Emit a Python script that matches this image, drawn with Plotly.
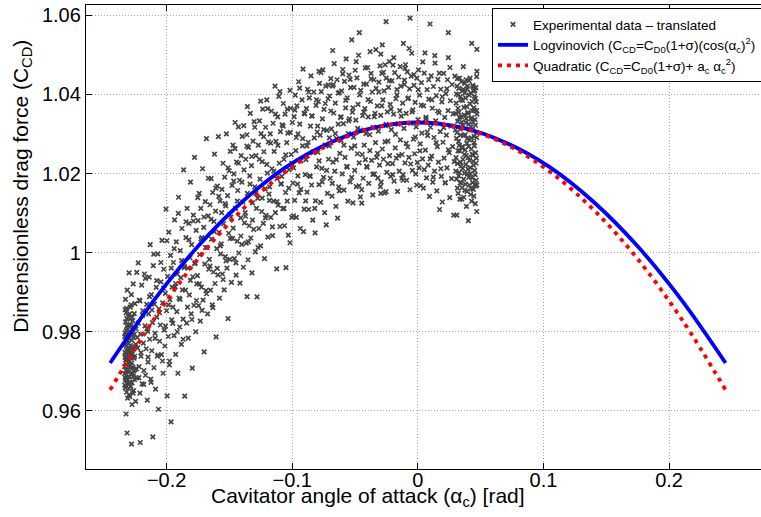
import plotly.graph_objects as go

# ---------------- data ----------------
# experimental points (alpha [rad], C_CD), grouped by region of the cloud
exp_left = [
    (-0.2334,0.9712),(-0.2331,0.9768),(-0.2329,0.9658),(-0.2327,0.9825),(-0.2333,0.9694),(-0.2325,0.9741),(-0.2322,0.9803),(-0.2330,0.9856),(-0.2318,0.9677),(-0.2326,0.9729),
    (-0.2315,0.9786),(-0.2320,0.9647),(-0.2312,0.9758),(-0.2328,0.9882),(-0.2310,0.9703),(-0.2317,0.9834),(-0.2306,0.9667),(-0.2323,0.9592),(-0.2308,0.9751),(-0.2314,0.9905),
    (-0.2302,0.9724),(-0.2300,0.9812),(-0.2297,0.9686),(-0.2304,0.9771),(-0.2295,0.9845),(-0.2293,0.9636),(-0.2299,0.9949),(-0.2290,0.9735),(-0.2288,0.9797),(-0.2285,0.9662),
    (-0.2283,0.9868),(-0.2280,0.9516),(-0.2287,0.9715),(-0.2278,0.9779),(-0.2276,0.9616),(-0.2274,0.9836),(-0.2271,0.9694),(-0.2269,0.9758),(-0.2266,0.9921),(-0.2264,0.9651),
    (-0.2315,0.9544),(-0.2262,0.9812),(-0.2259,0.9733),(-0.2256,0.9679),(-0.2253,0.9871),(-0.2250,0.9762),(-0.2247,0.9624),(-0.2244,0.9807),(-0.2241,0.9706),(-0.2238,0.9950),
    (-0.2332,0.9748),(-0.2330,0.9684),(-0.2326,0.9791),(-0.2321,0.9717),(-0.2319,0.9859),(-0.2311,0.9632),(-0.2309,0.9777),(-0.2303,0.9698),(-0.2298,0.9752),(-0.2294,0.9818),
    (-0.2291,0.9673),(-0.2286,0.9742),(-0.2281,0.9894),(-0.2277,0.9721),(-0.2272,0.9806),(-0.2268,0.9645),(-0.2263,0.9785),(-0.2258,0.9846),(-0.2252,0.9705),(-0.2246,0.9768),
    (-0.2333,0.9665),(-0.2329,0.9797),(-0.2324,0.9702),(-0.2321,0.9764),(-0.2318,0.9729),(-0.2316,0.9815),(-0.2313,0.9685),(-0.2307,0.9740),(-0.2305,0.9839),(-0.2301,0.9657),
    (-0.2296,0.9783),(-0.2292,0.9709),(-0.2289,0.9862),(-0.2284,0.9693),(-0.2279,0.9748),(-0.2275,0.9671),(-0.2270,0.9828),(-0.2267,0.9736),(-0.2261,0.9701),(-0.2257,0.9794),
    (-0.2334,0.9787),(-0.2327,0.9679),(-0.2319,0.9752),(-0.2311,0.9807),(-0.2304,0.9729),(-0.2297,0.9641),(-0.2289,0.9765),(-0.2282,0.9817),(-0.2273,0.9744),(-0.2265,0.9688),
    (-0.2331,0.9735),(-0.2323,0.9848),(-0.2314,0.9670),(-0.2306,0.9791),(-0.2299,0.9714),(-0.2290,0.9832),(-0.2284,0.9759),(-0.2276,0.9795),(-0.2268,0.9710),(-0.2255,0.9738),
]

exp_rise = [
    (-0.2236,0.9683),(-0.2231,0.9759),(-0.2226,0.9822),(-0.2220,0.9712),(-0.2217,0.9880),(-0.2213,0.9645),(-0.2208,0.9794),(-0.2204,0.9738),(-0.2199,0.9918),(-0.2195,0.9668),
    (-0.2226,0.9974),(-0.2210,0.9520),(-0.2190,0.9853),(-0.2186,0.9771),(-0.2181,0.9702),(-0.2177,0.9946),(-0.2172,0.9815),(-0.2168,0.9690),(-0.2163,0.9757),(-0.2158,0.9869),
    (-0.2154,0.9627),(-0.2150,0.9801),
    (-0.2148,0.9723),(-0.2144,0.9845),(-0.2139,0.9938),(-0.2135,0.9781),(-0.2131,1.0020),(-0.2127,0.9680),(-0.2122,0.9894),(-0.2118,0.9752),(-0.2113,0.9823),(-0.2110,0.9534),
    (-0.2106,0.9967),(-0.2101,0.9709),(-0.2097,0.9870),(-0.2092,0.9796),(-0.2088,0.9655),(-0.2083,0.9912),(-0.2079,0.9837),(-0.2074,0.9738),(-0.2070,0.9997),(-0.2065,0.9604),
    (-0.2061,0.9858),(-0.2056,0.9776),
    (-0.2050,0.9817),(-0.2046,0.9926),(-0.2041,0.9742),(-0.2037,1.0031),(-0.2032,0.9873),(-0.2028,0.9695),(-0.2023,0.9958),(-0.2019,0.9804),(-0.2014,0.9764),(-0.2010,0.9897),
    (-0.2005,1.0110),(-0.2001,0.9853),(-0.1996,0.9638),(-0.1992,0.9940),(-0.1987,0.9788),(-0.1983,1.0052),(-0.1978,0.9716),(-0.1974,0.9881),(-0.1969,0.9993),(-0.1965,0.9572),
    (-0.1960,0.9830),(-0.1956,0.9913),
    (-0.1950,0.9862),(-0.1946,0.9975),(-0.1941,0.9790),(-0.1937,1.0083),(-0.1932,0.9914),(-0.1928,0.9743),(-0.1923,1.0027),(-0.1919,0.9851),(-0.1914,0.9946),(-0.1910,0.9695),
    (-0.1905,1.0140),(-0.1901,0.9885),(-0.1896,0.9812),(-0.1892,1.0005),(-0.1887,0.9937),(-0.1883,0.9768),(-0.1878,1.0061),(-0.1874,0.9906),(-0.1869,0.9832),(-0.1865,1.0209),
    (-0.1860,0.9962),(-0.1856,0.9637),
    (-0.1850,0.9905),(-0.1846,1.0038),(-0.1841,0.9822),(-0.1837,1.0112),(-0.1832,0.9961),(-0.1828,0.9784),(-0.1823,1.0074),(-0.1819,0.9893),(-0.1814,0.9987),(-0.1810,1.0178),
    (-0.1805,0.9845),(-0.1801,1.0020),(-0.1796,0.9708),(-0.1792,0.9939),(-0.1787,1.0095),(-0.1783,0.9867),(-0.1778,1.0241),(-0.1774,0.9974),(-0.1769,0.9800),(-0.1765,1.0056),
    (-0.1760,0.9921),
    (-0.1755,0.9942),(-0.1750,1.0081),(-0.1746,0.9866),(-0.1741,1.0150),(-0.1737,0.9995),(-0.1732,0.9827),(-0.1728,1.0112),(-0.1723,0.9913),(-0.1719,1.0038),(-0.1714,1.0212),
    (-0.1710,0.9880),(-0.1705,1.0064),(-0.1701,0.9749),(-0.1696,0.9971),(-0.1692,1.0129),(-0.1687,0.9904),(-0.1683,1.0288),(-0.1678,1.0013),(-0.1674,0.9845),(-0.1669,1.0093),
    (-0.1665,0.9958),
    (-0.1660,0.9983),(-0.1655,1.0121),(-0.1651,0.9905),(-0.1646,1.0187),(-0.1642,1.0034),(-0.1637,0.9868),(-0.1633,1.0152),(-0.1628,0.9951),(-0.1624,1.0079),(-0.1619,1.0249),
    (-0.1615,0.9922),(-0.1610,1.0105),(-0.1606,0.9787),(-0.1601,1.0010),(-0.1597,1.0168),(-0.1592,0.9944),(-0.1588,1.0293),(-0.1583,1.0051),(-0.1579,0.9885),(-0.1574,1.0131),
    (-0.1570,0.9997),
    (-0.1565,1.0022),(-0.1560,1.0160),(-0.1556,0.9946),(-0.1551,1.0226),(-0.1547,1.0073),(-0.1542,0.9906),(-0.1538,1.0191),(-0.1533,0.9990),(-0.1529,1.0118),(-0.1524,1.0300),
    (-0.1520,0.9961),(-0.1515,1.0144),(-0.1511,0.9833),(-0.1506,1.0049),(-0.1502,1.0207),(-0.1497,0.9983),(-0.1493,1.0256),(-0.1488,1.0090),(-0.1484,0.9925),(-0.1479,1.0170),
    (-0.1475,1.0036),(-0.1455,1.0329),
    (-0.2234,0.9786),(-0.2221,0.9684),(-0.2213,0.9878),(-0.2204,0.9747),(-0.2191,0.9842),(-0.2182,0.9667),(-0.2169,0.9935),(-0.2157,0.9807),(-0.2148,0.9736),(-0.2136,0.9889),
    (-0.2124,0.9672),(-0.2117,0.9855),(-0.2103,0.9996),(-0.2092,0.9783),(-0.2079,0.9929),(-0.2068,0.9741),(-0.2057,0.9848),(-0.2046,0.9975),(-0.2033,0.9726),(-0.2024,0.9910),
    (-0.2009,0.9814),(-0.1998,1.0030),(-0.1986,0.9868),(-0.1977,0.9726),(-0.1963,0.9961),(-0.1951,0.9821),(-0.1940,1.0010),(-0.1928,0.9922),(-0.1916,0.9800),(-0.1907,1.0099),
    (-0.1893,0.9882),(-0.1881,0.9980),(-0.1869,0.9781),(-0.1858,0.9965),(-0.1846,1.0078),(-0.1834,0.9862),(-0.1822,1.0032),(-0.1811,0.9930),(-0.1799,0.9831),(-0.1787,1.0080),
    (-0.1776,0.9972),(-0.1763,0.9879),(-0.1752,1.0139),(-0.1740,0.9921),(-0.1727,1.0034),(-0.1718,0.9854),(-0.1703,1.0090),(-0.1691,1.0013),(-0.1682,0.9896),(-0.1668,1.0188),
    (-0.1655,0.9966),(-0.1646,1.0084),(-0.1632,0.9861),(-0.1621,1.0053),(-0.1609,1.0163),(-0.1597,0.9960),(-0.1585,1.0142),(-0.1573,1.0017),(-0.1562,1.0101),(-0.1550,0.9932),
]

exp_mid = [
    (-0.1470,1.0062),(-0.1465,1.0199),(-0.1461,0.9985),(-0.1456,1.0263),(-0.1452,1.0112),(-0.1447,0.9943),(-0.1443,1.0229),(-0.1438,1.0029),(-0.1434,1.0157),(-0.1429,1.0318),
    (-0.1425,0.9999),(-0.1420,1.0183),(-0.1416,0.9923),(-0.1411,1.0088),(-0.1407,1.0245),(-0.1402,1.0021),(-0.1398,1.0294),(-0.1393,1.0128),(-0.1389,0.9963),(-0.1384,1.0209),
    (-0.1380,1.0075),(-0.1357,1.0369),(-0.1360,0.9889),
    (-0.1375,1.0101),(-0.1370,1.0236),(-0.1366,1.0024),(-0.1361,1.0298),(-0.1357,1.0150),(-0.1352,0.9982),(-0.1348,1.0266),(-0.1343,1.0068),(-0.1339,1.0194),(-0.1334,1.0352),
    (-0.1330,1.0037),(-0.1325,1.0220),(-0.1321,0.9949),(-0.1316,1.0126),(-0.1312,1.0282),(-0.1307,1.0059),(-0.1303,1.0331),(-0.1298,1.0166),(-0.1294,1.0002),(-0.1289,1.0245),
    (-0.1280,0.9888),(-0.1285,1.0112),
    (-0.1275,1.0137),(-0.1270,1.0272),(-0.1266,1.0061),(-0.1261,1.0333),(-0.1257,1.0186),(-0.1252,1.0017),(-0.1248,1.0301),(-0.1243,1.0104),(-0.1239,1.0230),(-0.1235,1.0363),
    (-0.1230,1.0074),(-0.1226,1.0255),(-0.1221,0.9985),(-0.1217,1.0161),(-0.1212,1.0317),(-0.1208,1.0094),(-0.1203,1.0386),(-0.1199,1.0201),(-0.1194,1.0039),(-0.1190,1.0280),
    (-0.1185,1.0148),
    (-0.1180,1.0166),(-0.1175,1.0300),(-0.1171,1.0089),(-0.1166,1.0358),(-0.1162,1.0212),(-0.1157,1.0043),(-0.1153,1.0327),(-0.1148,1.0130),(-0.1144,1.0256),(-0.1137,1.0421),
    (-0.1134,1.0101),(-0.1130,1.0281),(-0.1124,0.9959),(-0.1121,1.0187),(-0.1116,1.0343),(-0.1112,1.0120),(-0.1107,1.0395),(-0.1103,1.0226),(-0.1098,1.0066),(-0.1094,1.0306),
    (-0.1089,1.0174),
    (-0.1084,1.0193),(-0.1080,1.0323),(-0.1075,1.0111),(-0.1071,1.0377),(-0.1066,1.0236),(-0.1062,1.0068),(-0.1057,1.0350),(-0.1053,1.0152),(-0.1050,0.9962),(-0.1044,1.0278),
    (-0.1040,1.0130),(-0.1035,1.0302),(-0.1031,1.0044),(-0.1026,1.0210),(-0.1018,1.0410),(-0.1018,1.0025),(-0.1013,1.0365),(-0.1008,1.0248),(-0.1004,1.0089),(-0.0999,1.0329),
    (-0.0995,1.0176),
    (-0.0990,1.0214),(-0.0985,1.0344),(-0.0981,1.0132),(-0.0976,1.0398),(-0.0972,1.0258),(-0.0967,1.0089),(-0.0963,1.0371),(-0.0958,1.0173),(-0.0954,1.0300),(-0.0949,1.0432),
    (-0.0945,1.0151),(-0.0940,1.0325),(-0.0936,1.0061),(-0.0931,1.0232),(-0.0914,1.0464),(-0.0910,1.0053),(-0.0922,1.0386),(-0.0918,1.0270),(-0.0905,1.0110),(-0.0901,1.0351),
    (-0.0896,1.0197),
    (-0.0891,1.0235),(-0.0887,1.0364),(-0.0882,1.0153),(-0.0878,1.0413),(-0.0873,1.0279),(-0.0869,1.0109),(-0.0864,1.0391),(-0.0860,1.0194),(-0.0855,1.0320),(-0.0851,1.0447),
    (-0.0846,1.0171),(-0.0842,1.0345),(-0.0837,1.0082),(-0.0833,1.0253),(-0.0818,1.0050),(-0.0828,1.0406),(-0.0824,1.0290),(-0.0787,1.0458),(-0.0815,1.0131),(-0.0810,1.0372),
    (-0.0806,1.0217),(-0.0801,1.0305),
    (-0.0796,1.0254),(-0.0792,1.0382),(-0.0787,1.0172),(-0.0783,1.0428),(-0.0778,1.0297),(-0.0774,1.0127),(-0.0769,1.0407),(-0.0765,1.0213),(-0.0760,1.0338),(-0.0756,1.0462),
    (-0.0751,1.0190),(-0.0747,1.0362),(-0.0742,1.0101),(-0.0738,1.0272),(-0.0733,1.0421),(-0.0729,1.0070),(-0.0724,1.0309),(-0.0720,1.0150),(-0.0715,1.0389),(-0.0711,1.0236),
    (-0.0678,1.0511),
    (-0.0706,1.0270),(-0.0702,1.0396),(-0.0697,1.0188),(-0.0693,1.0440),(-0.0688,1.0313),(-0.0684,1.0143),(-0.0679,1.0421),(-0.0675,1.0229),(-0.0670,1.0353),(-0.0666,1.0478),
    (-0.0661,1.0206),(-0.0657,1.0378),(-0.0652,1.0117),(-0.0648,1.0288),(-0.0643,1.0437),(-0.0639,1.0087),(-0.0634,1.0325),(-0.0630,1.0166),(-0.0625,1.0405),(-0.0621,1.0251),
    (-0.0616,1.0342),
    (-0.1534,1.0124),(-0.1527,0.9979),(-0.1511,1.0214),(-0.1498,1.0097),(-0.1493,1.0036),(-0.1472,1.0272),(-0.1466,1.0181),(-0.1449,0.9974),(-0.1437,1.0130),(-0.1428,1.0226),
    (-0.1409,1.0042),(-0.1401,1.0178),(-0.1386,1.0321),(-0.1372,1.0092),(-0.1361,1.0269),(-0.1349,1.0027),(-0.1336,1.0173),(-0.1322,1.0243),(-0.1317,1.0082),(-0.1298,1.0317),
    (-0.1289,1.0149),(-0.1273,1.0013),(-0.1262,1.0236),(-0.1251,1.0383),(-0.1239,1.0138),(-0.1228,1.0293),(-0.1214,1.0088),(-0.1203,1.0223),(-0.1196,1.0364),(-0.1181,1.0132),
    (-0.1172,1.0277),(-0.1158,1.0065),(-0.1147,1.0206),(-0.1133,1.0350),(-0.1121,1.0129),(-0.1114,1.0271),(-0.1098,1.0407),(-0.1088,1.0174),(-0.1073,1.0320),(-0.1066,1.0112),
    (-0.1052,1.0247),(-0.1039,1.0363),(-0.1027,1.0163),(-0.1016,1.0304),(-0.1004,1.0226),(-0.0991,1.0093),(-0.0979,1.0360),(-0.0968,1.0291),(-0.0955,1.0194),(-0.0941,1.0416),
    (-0.0932,1.0160),(-0.0917,1.0288),(-0.0905,1.0353),(-0.0893,1.0131),(-0.0884,1.0270),(-0.0869,1.0406),(-0.0857,1.0193),(-0.0845,1.0346),(-0.0834,1.0254),(-0.0821,1.0112),
    (-0.0807,1.0386),(-0.0798,1.0320),(-0.0786,1.0232),(-0.0771,1.0455),(-0.0762,1.0179),(-0.0749,1.0311),(-0.0737,1.0377),(-0.0726,1.0208),(-0.0713,1.0424),(-0.0704,1.0290),
]

exp_top = [
    (-0.0611,1.0283),(-0.0607,1.0409),(-0.0602,1.0199),(-0.0598,1.0452),(-0.0593,1.0326),(-0.0589,1.0158),(-0.0584,1.0433),(-0.0580,1.0241),(-0.0575,1.0366),(-0.0571,1.0490),
    (-0.0566,1.0218),(-0.0562,1.0391),(-0.0557,1.0130),(-0.0553,1.0301),(-0.0526,1.0538),(-0.0548,1.0449),(-0.0544,1.0338),(-0.0539,1.0179),(-0.0535,1.0417),(-0.0530,1.0264),
    (-0.0466,1.0556),(-0.0521,1.0355),(-0.0517,1.0126),
    (-0.0512,1.0292),(-0.0508,1.0418),(-0.0503,1.0208),(-0.0499,1.0461),(-0.0494,1.0335),(-0.0490,1.0167),(-0.0485,1.0442),(-0.0481,1.0250),(-0.0476,1.0375),(-0.0472,1.0499),
    (-0.0467,1.0227),(-0.0463,1.0399),(-0.0458,1.0141),(-0.0454,1.0310),(-0.0447,1.0159),(-0.0447,1.0125),(-0.0440,1.0346),(-0.0436,1.0188),(-0.0431,1.0426),(-0.0427,1.0272),
    (-0.0422,1.0364),(-0.0418,1.0235),
    (-0.0413,1.0301),(-0.0409,1.0426),(-0.0404,1.0216),(-0.0400,1.0468),(-0.0395,1.0343),(-0.0391,1.0175),(-0.0380,1.0508),(-0.0382,1.0258),(-0.0377,1.0382),(-0.0373,1.0453),
    (-0.0368,1.0233),(-0.0364,1.0406),(-0.0359,1.0146),(-0.0355,1.0317),(-0.0350,1.0437),(-0.0346,1.0199),(-0.0341,1.0352),(-0.0337,1.0278),(-0.0332,1.0415),(-0.0328,1.0241),
    (-0.0323,1.0371),(-0.0319,1.0189),(-0.0295,1.0150),(-0.0295,1.0502),(-0.0283,1.0525),(-0.0253,1.0584),(-0.0253,1.0154),
    (-0.0314,1.0307),(-0.0310,1.0431),(-0.0305,1.0221),(-0.0301,1.0472),(-0.0296,1.0347),(-0.0292,1.0178),(-0.0287,1.0453),(-0.0283,1.0262),(-0.0278,1.0386),(-0.0274,1.0236),
    (-0.0269,1.0409),(-0.0265,1.0151),(-0.0261,1.0475),(-0.0256,1.0321),(-0.0252,1.0441),(-0.0247,1.0203),(-0.0243,1.0356),(-0.0238,1.0282),(-0.0234,1.0418),(-0.0227,1.0483),
    (-0.0225,1.0245),(-0.0220,1.0375),(-0.0216,1.0193),
    (-0.0211,1.0311),(-0.0207,1.0434),(-0.0202,1.0225),(-0.0198,1.0474),(-0.0193,1.0350),(-0.0189,1.0181),(-0.0184,1.0455),(-0.0180,1.0265),(-0.0175,1.0389),(-0.0171,1.0239),
    (-0.0166,1.0412),(-0.0162,1.0155),(-0.0157,1.0325),(-0.0153,1.0444),(-0.0148,1.0206),(-0.0144,1.0359),(-0.0139,1.0285),(-0.0135,1.0421),(-0.0128,1.0188),(-0.0126,1.0248),
    (-0.0121,1.0378),(-0.0117,1.0197),(-0.0115,1.0529),(-0.0102,1.0466),
    (-0.0111,1.0314),(-0.0107,1.0436),(-0.0102,1.0227),(-0.0098,1.0475),(-0.0093,1.0352),(-0.0089,1.0183),(-0.0084,1.0457),(-0.0080,1.0267),(-0.0075,1.0391),(-0.0071,1.0241),
    (-0.0066,1.0414),(-0.0062,1.0159),(-0.0062,1.0593),(-0.0057,1.0327),(-0.0053,1.0446),(-0.0049,1.0504),(-0.0044,1.0208),(-0.0040,1.0361),(-0.0035,1.0287),(-0.0031,1.0423),
    (-0.0026,1.0250),(-0.0022,1.0380),(-0.0017,1.0199),(-0.0013,1.0318),(-0.0008,1.0441),(-0.0004,1.0228),
    (0.0001,1.0336),(0.0005,1.0462),(0.0010,1.0214),(0.0014,1.0398),(0.0019,1.0275),(0.0023,1.0169),(0.0028,1.0430),(0.0032,1.0302),(0.0037,1.0237),(0.0044,1.0163),
    (0.0046,1.0371),(0.0051,1.0454),(0.0057,1.0505),(0.0060,1.0259),(0.0065,1.0342),(0.0069,1.0189),(0.0074,1.0412),(0.0078,1.0296),(0.0083,1.0221),(0.0087,1.0388),
    (0.0092,1.0142),(0.0097,1.0578),(0.0101,1.0317),(0.0106,1.0447),
    (0.0110,1.0244),(0.0115,1.0365),(0.0119,1.0178),(0.0124,1.0420),(0.0128,1.0291),(0.0133,1.0206),(0.0137,1.0479),(0.0142,1.0333),(0.0146,1.0397),(0.0151,1.0156),
    (0.0155,1.0268),(0.0160,1.0438),(0.0164,1.0229),(0.0169,1.0354),(0.0173,1.0109),(0.0178,1.0306),(0.0182,1.0413),(0.0187,1.0193),(0.0191,1.0381),(0.0195,1.0128),
    (0.0200,1.0279),(0.0205,1.0453),(0.0209,1.0239),(0.0214,1.0342),
    (0.0218,1.0176),(0.0223,1.0402),(0.0227,1.0297),(0.0232,1.0214),(0.0236,1.0437),(0.0241,1.0359),(0.0243,1.0556),(0.0243,1.0493),(0.0250,1.0253),(0.0254,1.0139),
    (0.0259,1.0384),(0.0263,1.0320),(0.0268,1.0187),(0.0272,1.0425),(0.0277,1.0268),(0.0281,1.0351),(0.0286,1.0095),(0.0290,1.0230),(0.0295,1.0446),(0.0299,1.0310),
    (-0.0693,1.0358),(-0.0681,1.0175),(-0.0672,1.0425),(-0.0657,1.0301),(-0.0649,1.0235),(-0.0633,1.0403),(-0.0625,1.0156),(-0.0611,1.0343),(-0.0598,1.0463),(-0.0589,1.0272),
    (-0.0574,1.0385),(-0.0563,1.0216),(-0.0551,1.0333),(-0.0539,1.0438),(-0.0527,1.0190),(-0.0516,1.0366),(-0.0502,1.0270),(-0.0491,1.0483),(-0.0479,1.0314),(-0.0468,1.0169),
    (-0.0455,1.0410),(-0.0443,1.0248),(-0.0431,1.0355),(-0.0418,1.0467),(-0.0407,1.0218),(-0.0396,1.0387),(-0.0383,1.0298),(-0.0371,1.0439),(-0.0358,1.0198),(-0.0347,1.0344),
    (-0.0334,1.0513),(-0.0321,1.0251),(-0.0312,1.0406),(-0.0298,1.0167),(-0.0287,1.0371),(-0.0274,1.0456),(-0.0261,1.0280),(-0.0252,1.0324),(-0.0238,1.0225),(-0.0226,1.0435),
    (-0.0213,1.0363),(-0.0201,1.0197),(-0.0192,1.0493),(-0.0178,1.0299),(-0.0167,1.0399),(-0.0153,1.0245),(-0.0141,1.0470),(-0.0132,1.0345),(-0.0118,1.0183),(-0.0106,1.0425),
    (-0.0093,1.0276),(-0.0081,1.0389),(-0.0069,1.0516),(-0.0057,1.0224),(-0.0046,1.0356),(-0.0032,1.0450),(-0.0021,1.0292),(-0.0009,1.0171),(0.0003,1.0412),(0.0016,1.0257),
    (0.0027,1.0373),(0.0039,1.0482),(0.0051,1.0210),(0.0064,1.0338),(0.0075,1.0305),(0.0087,1.0437),(0.0098,1.0237),(0.0111,1.0386),(0.0123,1.0191),(0.0135,1.0498),
    (0.0146,1.0278),(0.0158,1.0358),(0.0171,1.0454),(0.0183,1.0212),(0.0194,1.0394),(0.0206,1.0316),(0.0218,1.0177),(0.0231,1.0414),(0.0243,1.0260),(0.0256,1.0468),
]

exp_right = [
    (0.0302,1.0206),(0.0305,1.0378),(0.0308,1.0289),(0.0310,1.0095),(0.0312,1.0421),(0.0315,1.0163),(0.0317,1.0332),(0.0320,1.0257),(0.0322,1.0399),(0.0325,1.0194),
    (0.0327,1.0355),(0.0330,1.0271),(0.0332,1.0441),(0.0335,1.0135),(0.0337,1.0312),(0.0340,1.0228),(0.0342,1.0386),(0.0345,1.0177),(0.0347,1.0344),(0.0350,1.0135),
    (0.0352,1.0264),(0.0355,1.0409),(0.0357,1.0213),(0.0360,1.0321),(0.0362,1.0470),(0.0365,1.0186),(0.0367,1.0367),(0.0370,1.0248),(0.0372,1.0428),(0.0375,1.0158),
    (0.0377,1.0298),(0.0380,1.0391),(0.0382,1.0223),(0.0385,1.0339),(0.0387,1.0117),(0.0390,1.0276),(0.0392,1.0414),(0.0395,1.0199),(0.0397,1.0354),(0.0400,1.0240),
    (0.0402,1.0081),(0.0405,1.0325),(0.0407,1.0435),(0.0410,1.0171),(0.0412,1.0285),(0.0415,1.0376),(0.0417,1.0215),(0.0420,1.0147),(0.0422,1.0403),(0.0425,1.0262),
    (0.0427,1.0341),(0.0429,1.0529),(0.0432,1.0189),(0.0435,1.0311),(0.0437,1.0423),(0.0440,1.0231),(0.0442,1.0160),(0.0445,1.0366),(0.0447,1.0278),(0.0450,1.0395),
    (0.0452,1.0208),(0.0455,1.0336),(0.0457,1.0124),(0.0460,1.0252),(0.0462,1.0417),(0.0465,1.0183),(0.0467,1.0304),(0.0469,1.0104),(0.0470,1.0514),(0.0470,1.0458),
    (0.0468,1.0359),(0.0463,1.0226),(0.0458,1.0390),(0.0453,1.0172),(0.0448,1.0294),(0.0443,1.0408),(0.0438,1.0246),(0.0433,1.0358),(0.0428,1.0130),(0.0423,1.0318),
    (0.0301,1.0352),(0.0304,1.0240),(0.0307,1.0401),(0.0309,1.0186),(0.0311,1.0303),(0.0314,1.0440),(0.0316,1.0225),(0.0319,1.0365),(0.0321,1.0150),(0.0324,1.0281),
    (0.0326,1.0415),(0.0329,1.0203),(0.0331,1.0342),(0.0334,1.0257),(0.0336,1.0176),(0.0339,1.0394),(0.0341,1.0297),(0.0344,1.0219),(0.0346,1.0432),(0.0349,1.0330),
    (0.0351,1.0164),(0.0354,1.0268),(0.0356,1.0385),(0.0359,1.0236),(0.0361,1.0413),(0.0364,1.0296),(0.0366,1.0140),(0.0369,1.0348),(0.0371,1.0201),(0.0374,1.0404),
    (0.0376,1.0260),(0.0379,1.0173),(0.0381,1.0329),(0.0384,1.0437),(0.0386,1.0245),(0.0389,1.0369),(0.0391,1.0155),(0.0394,1.0288),(0.0396,1.0421),(0.0399,1.0211),
    (0.0401,1.0352),(0.0404,1.0268),(0.0406,1.0190),(0.0409,1.0398),(0.0411,1.0233),(0.0414,1.0311),(0.0416,1.0441),(0.0419,1.0200),(0.0421,1.0338),(0.0424,1.0161),
    (0.0426,1.0290),(0.0431,1.0382),(0.0434,1.0249),(0.0436,1.0177),(0.0439,1.0330),(0.0441,1.0419),(0.0444,1.0221),(0.0446,1.0143),(0.0449,1.0360),(0.0451,1.0270),
    (0.0454,1.0410),(0.0456,1.0197),(0.0459,1.0322),(0.0461,1.0168),(0.0464,1.0381),(0.0466,1.0239),(0.0468,1.0445),(0.0469,1.0291),(0.0470,1.0171),(0.0470,1.0350),
]

# fitted curves
alpha_fit = [-0.245, -0.21, -0.175, -0.14, -0.105, -0.07, -0.035, 0.0,
             0.035, 0.07, 0.105, 0.14, 0.175, 0.21, 0.245]
ccd_logvinovich = [0.9721, 0.9880, 1.0016, 1.0128, 1.0216, 1.0278, 1.0316, 1.0329,
                   1.0316, 1.0278, 1.0216, 1.0128, 1.0016, 0.9880, 0.9721]
ccd_quadratic = [0.9653, 0.9832, 0.9984, 1.0108, 1.0205, 1.0274, 1.0315, 1.0329,
                 1.0315, 1.0274, 1.0205, 1.0108, 0.9984, 0.9832, 0.9653]

x_ticks = [-0.2, -0.1, 0, 0.1, 0.2]
x_tick_text = ["\u22120.2", "\u22120.1", "0", "0.1", "0.2"]
y_ticks = [0.96, 0.98, 1.0, 1.02, 1.04, 1.06]
y_tick_text = ["0.96", "0.98", "1", "1.02", "1.04", "1.06"]

# ---------------- figure ----------------
all_pts = exp_left + exp_rise + exp_mid + exp_top + exp_right
exp_alpha = [p[0] for p in all_pts]
exp_ccd = [p[1] for p in all_pts]

FONT = "Liberation Sans, Arial, Helvetica, sans-serif"

fig = go.Figure()
fig.add_trace(go.Scatter(
    x=exp_alpha, y=exp_ccd, mode="markers",
    name="Experimental data \u2013 translated",
    marker=dict(symbol="x-thin", size=4.5, color="#454545",
                line=dict(width=1.7, color="#454545")),
))
fig.add_trace(go.Scatter(
    x=alpha_fit, y=ccd_logvinovich, mode="lines", line_shape="spline",
    name="Logvinovich (C<sub>CD</sub>=C<sub>D0</sub>(1+\u03c3)(cos(\u03b1<sub>c</sub>)<sup>2</sup>)",
    line=dict(color="#0000ff", width=3.8),
))
fig.add_trace(go.Scatter(
    x=alpha_fit, y=ccd_quadratic, mode="lines", line_shape="spline",
    name="Quadratic (C<sub>CD</sub>=C<sub>D0</sub>(1+\u03c3)+ a<sub>c</sub> \u03b1<sub>c</sub><sup>2</sup>)",
    line=dict(color="#ff0000", width=3.8, dash="4px,5px"),
))

axis_common = dict(
    showline=True, linecolor="black", linewidth=1.3,
    ticks="inside", ticklen=6, tickwidth=1, tickcolor="black",
    showgrid=True, gridcolor="#a8a8a8", griddash="1px,2px", gridwidth=1,
    zeroline=False, tickfont=dict(family=FONT, size=20, color="black"),
    automargin=False,
)

fig.update_xaxes(range=[-0.2642, 0.2732], tickvals=x_ticks, ticktext=x_tick_text,
                 mirror="ticks", ticklabelstandoff=-7, **axis_common)
fig.update_yaxes(range=[0.9453, 1.0626], tickvals=y_ticks, ticktext=y_tick_text,
                 mirror=False, **axis_common)

fig.update_layout(
    width=761, height=517,
    margin=dict(l=86, r=0, t=5, b=48, autoexpand=False),
    paper_bgcolor="white", plot_bgcolor="white",
    font=dict(family=FONT, color="black"),
    showlegend=True,
    legend=dict(x=0.6015, y=0.9935, xanchor="left", yanchor="top",
                bgcolor="white", bordercolor="black", borderwidth=1,
                font=dict(family=FONT, size=13.5, color="black"),
                tracegroupgap=0, itemwidth=30),
    annotations=[
        dict(text="Cavitator angle of attack (\u03b1<sub>c</sub>) [rad]",
             xref="paper", yref="paper", x=0.418, y=-0.06,
             xanchor="center", yanchor="middle", showarrow=False,
             font=dict(family=FONT, size=21, color="black")),
        dict(text="Dimensionless drag force (C<sub>CD</sub>)",
             xref="paper", yref="paper", x=-0.095, y=0.61,
             xanchor="center", yanchor="middle", showarrow=False, textangle=-90,
             font=dict(family=FONT, size=21, color="black")),
    ],
)

fig.write_html("out.html")
